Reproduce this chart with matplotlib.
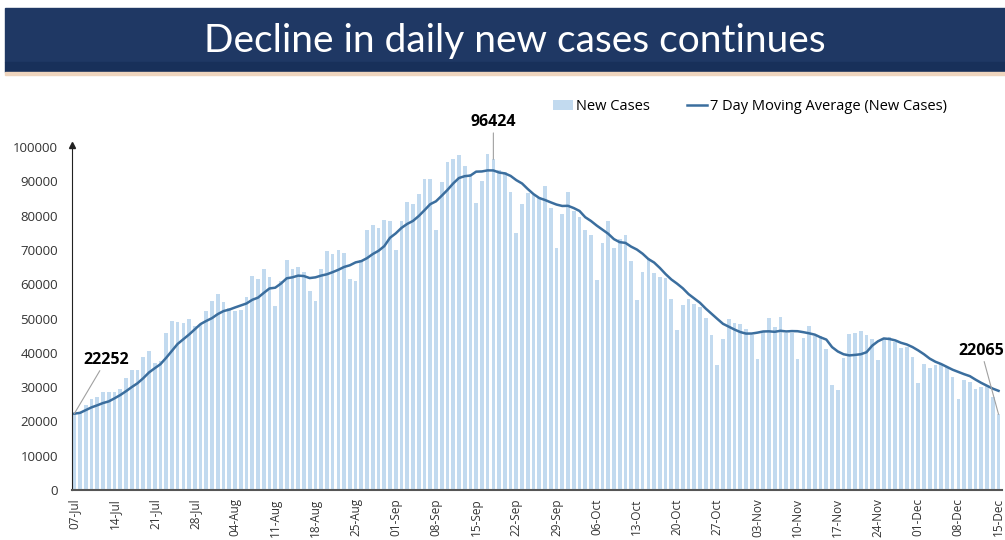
import numpy as np
import pandas as pd
import matplotlib
matplotlib.use('Agg')
import matplotlib.pyplot as plt
from matplotlib.patches import Rectangle

plt.rcParams['font.family'] = ['Open Sans', 'DejaVu Sans']

# ── data (daily new cases, 07-Jul → 15-Dec) ─────────────────────────────────
start_date = '2020-07-07'
cases_jul = [22252, 22752, 24879, 26506, 27114, 28637, 28701, 28498, 29429, 32695,
             34956, 34884, 38902, 40425, 37148, 37724, 45720, 49310, 48916, 48661,
             49931, 47704, 48513, 52123, 55078]
cases_aug = [57118, 54736, 52972, 52050, 52509, 56282, 62538, 61537, 64399, 62064,
             53601, 60963, 66999, 64553, 65002, 63490, 57982, 55079, 64531, 69652,
             68898, 69878, 69239, 61408, 60975, 67151, 75760, 77266, 76472, 78761,
             78512]
cases_sep = [69921, 78357, 83883, 83341, 86432, 90632, 90802, 75809, 89706, 95735,
             96551, 97570, 94372, 92071, 83809, 90123, 97894, 96424, 93337, 92605,
             86961, 75083, 83347, 86508, 86052, 85362, 88600, 82170, 70589, 80472]
cases_oct = [86821, 81484, 79476, 75829, 74442, 61267, 72049, 78524, 70496, 73272,
             74383, 66732, 55342, 63509, 67708, 63371, 62212, 61871, 55722, 46790,
             54044, 55839, 54366, 53370, 50129, 45149, 36470, 43893, 49881, 48648,
             48268]
cases_nov = [46963, 45231, 38310, 46253, 50210, 47638, 50356, 45674, 45903, 38073,
             44281, 47905, 44879, 44878, 41100, 30548, 29163, 38617, 45576, 45882,
             46232, 45209, 44059, 37975, 44376, 44489, 43082, 41322, 41810, 38772]
cases_dec = [31118, 36604, 35551, 36595, 36652, 36011, 32981, 26567, 32080, 31522,
             29398, 30006, 30254, 27071, 22065]

cases = pd.Series(cases_jul + cases_aug + cases_sep + cases_oct + cases_nov + cases_dec)
dates = pd.date_range(start_date, periods=len(cases), freq='D')
moving_avg = cases.rolling(7, min_periods=1).mean()

annotated = {0: '22252', 73: '96424', len(cases) - 1: '22065'}

BAR_C = '#C2DAEF'
LINE_C = '#3B6E9E'

# ── figure ───────────────────────────────────────────────────────────────────
fig = plt.figure(figsize=(10.05, 5.4), dpi=100)

# title banner
fig.patches.append(Rectangle((5 / 1005, 1 - 62 / 540), 1, 54 / 540,
                             transform=fig.transFigure, color='#1F3864', zorder=0))
fig.patches.append(Rectangle((5 / 1005, 1 - 72 / 540), 1, 10 / 540,
                             transform=fig.transFigure, color='#18305A', zorder=0))
fig.patches.append(Rectangle((5 / 1005, 1 - 75 / 540), 1, 3 / 540,
                             transform=fig.transFigure, color='#EFD5BE', zorder=0))
fig.text(0.512, 1 - 41 / 540, 'Decline in daily new cases continues',
         ha='center', va='center', color='white', fontsize=28,
         family=['Lato', 'DejaVu Sans'])

ax = fig.add_axes([72 / 1005, 50 / 540, 930 / 1005, 345 / 540])
x = np.arange(len(cases))
ax.bar(x, cases, width=0.65, color=BAR_C, label='New Cases', zorder=1)
ax.plot(x, moving_avg, color=LINE_C, lw=1.8, label='7 Day Moving Average (New Cases)', zorder=2)

ax.set_xlim(-0.4, len(cases) - 0.4)
ax.set_ylim(0, 100600)
ax.set_yticks(np.arange(0, 100001, 10000))
ax.tick_params(axis='y', length=0, labelsize=9.5, labelcolor='#333333', pad=10)
ax.set_xticks(x[::7])
ax.set_xticklabels([d.strftime('%d-%b') for d in dates[::7]], rotation=90,
                   fontsize=8.5, color='#333333')
ax.tick_params(axis='x', length=0, pad=6)

for side in ['top', 'right']:
    ax.spines[side].set_visible(False)
ax.spines['left'].set_color('#222222')
ax.spines['bottom'].set_color('#555555')
ax.spines['bottom'].set_linewidth(1.5)
ax.plot(0, 1, marker='^', color='#222222', markersize=4,
        transform=ax.transAxes, clip_on=False)

# annotations
ann_offsets = {0: (23, 33, 'center'), 73: (0, 21, 'center'), len(cases) - 1: (4, 40, 'right')}
for i, txt in annotated.items():
    dx, dy, ha = ann_offsets[i]
    ax.annotate(txt, xy=(i, cases[i]), xytext=(dx, dy), textcoords='offset points',
                ha=ha, va='bottom', fontsize=11.5, fontweight='bold',
                arrowprops=dict(arrowstyle='-', color='#A0A0A0', lw=0.8,
                                shrinkA=0, shrinkB=0), annotation_clip=False)

handles, labels = ax.get_legend_handles_labels()
order = [labels.index('New Cases'), labels.index('7 Day Moving Average (New Cases)')]
ax.legend([handles[k] for k in order], [labels[k] for k in order],
          loc='upper right', bbox_to_anchor=(0.955, 1.17), ncol=2, frameon=False,
          fontsize=10.5, handlelength=1.4, handletextpad=0.2, columnspacing=2.5)

fig.savefig('out.png', dpi=100)
